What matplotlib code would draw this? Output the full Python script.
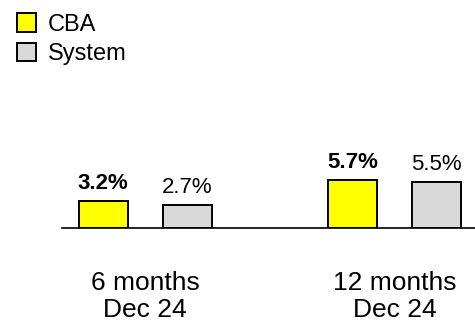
import matplotlib
matplotlib.use('Agg')

import matplotlib.pyplot as plt
import numpy as np

plt.rcParams['font.family'] = ['Liberation Sans', 'DejaVu Sans']

# data
categories = ['6 months\nDec 24', '12 months\nDec 24']
series_names = ['CBA', 'System']
cba_values = [3.2, 5.7]
system_values = [2.7, 5.5]
cba_labels = ['3.2%', '5.7%']
system_labels = ['2.7%', '5.5%']

colors = ['#FFFF00', '#D9D9D9']


def main():
    fig = plt.figure(figsize=(4.75, 3.23), dpi=100)
    ax = fig.add_axes([62 / 475, 95 / 323, 1 - 62 / 475, 228 / 323])

    x = np.arange(len(categories))
    width = 0.197
    offset = 0.1685

    bars_cba = ax.bar(x - offset, cba_values, width, color=colors[0],
                      edgecolor='black', linewidth=1.4, label=series_names[0])
    bars_sys = ax.bar(x + offset, system_values, width, color=colors[1],
                      edgecolor='black', linewidth=1.4, label=series_names[1])

    # value labels, CBA in bold
    for bar, txt in zip(bars_cba, cba_labels):
        ax.annotate(txt, (bar.get_x() + bar.get_width() / 2, bar.get_height()),
                    xytext=(0, 8.5), textcoords='offset points', ha='center',
                    va='baseline', fontsize=16, fontweight='bold')
    for bar, txt in zip(bars_sys, system_labels):
        ax.annotate(txt, (bar.get_x() + bar.get_width() / 2, bar.get_height()),
                    xytext=(0, 8.5), textcoords='offset points', ha='center',
                    va='baseline', fontsize=16)

    ax.set_xlim(-0.334, 1.323)
    ax.set_ylim(0, 27.1)

    ax.set_xticks(x)
    ax.set_xticklabels(categories, fontsize=19, linespacing=1.15)
    ax.tick_params(axis='x', length=0, pad=31)
    ax.set_yticks([])
    for side in ['top', 'right', 'left']:
        ax.spines[side].set_visible(False)
    ax.spines['bottom'].set_linewidth(1.2)
    ax.patch.set_alpha(0)

    fig.legend(handles=[bars_cba, bars_sys], loc='upper left',
               bbox_to_anchor=(8 / 475, 1 - 4 / 323), frameon=False,
               fontsize=17, handlelength=0.8, handleheight=0.8,
               handletextpad=0.5, labelspacing=0.3, borderaxespad=0)

    fig.savefig('out.png', dpi=100)
    plt.close(fig)


main()
